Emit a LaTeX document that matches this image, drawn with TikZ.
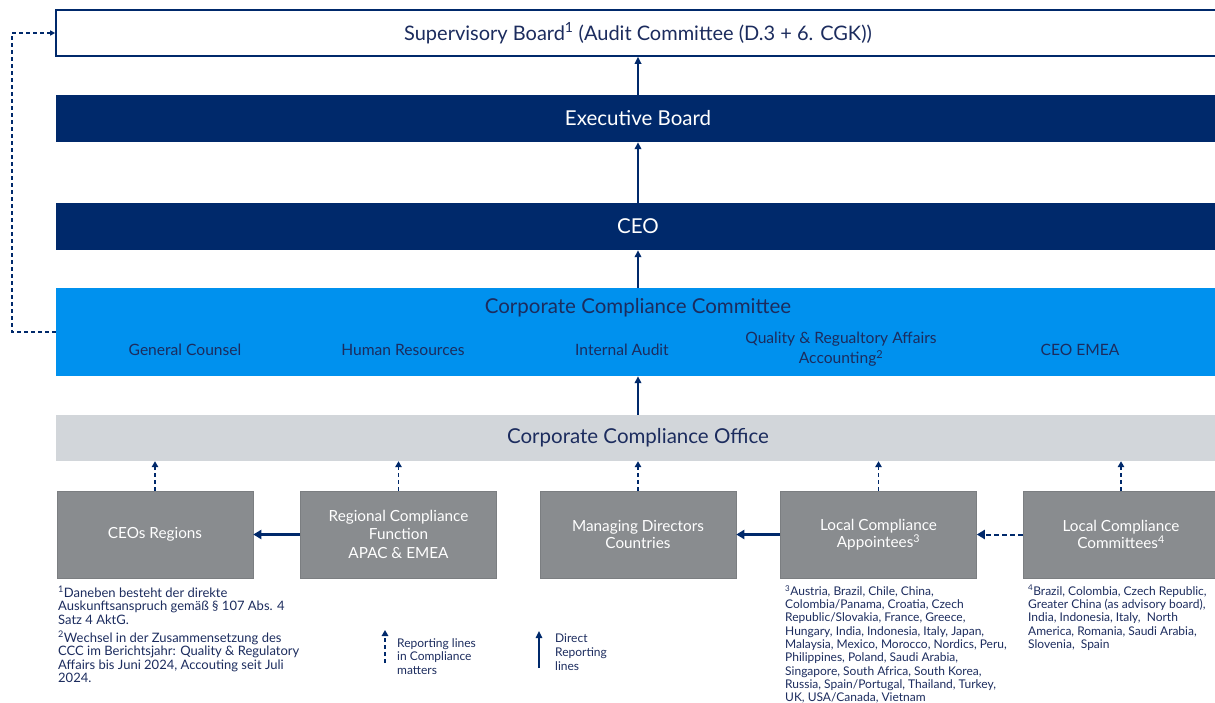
\documentclass[tikz,border=0pt]{standalone}
\usepackage{fontspec}
\setmainfont{Lato}
\usetikzlibrary{arrows.meta}
\definecolor{navy}{HTML}{00296B}
\definecolor{txtnavy}{HTML}{1C2C5E}
\definecolor{cccblue}{HTML}{0091EE}
\definecolor{ccogrey}{HTML}{D2D6DA}
\definecolor{boxgrey}{HTML}{898C8F}
\tikzset{
  band/.style={rectangle, inner sep=0pt, minimum width=1164pt},
  bandfont/.style={font=\fontsize{20.5}{22}\selectfont},
  gbox/.style={rectangle, fill=boxgrey, draw=boxgrey!90!black, line width=0.6pt, minimum width=196pt, minimum height=87pt, inner sep=0pt, text=white, align=center, font=\fontsize{15.3}{17.5}\selectfont},
  solidarr/.style={draw=navy, line width=1.8pt, -{Triangle[length=7pt,width=6.5pt]}},
  harr/.style={draw=navy, line width=2.8pt, -{Triangle[length=8pt,width=9pt]}},
  dasharr/.style={draw=navy, line width=1.8pt, dash pattern=on 4pt off 3pt, -{Triangle[length=6pt,width=6.5pt]}},
  fn/.style={anchor=north west, inner sep=0pt, align=left, text=txtnavy, font=\fontsize{12}{13.3}\selectfont},
  item/.style={text=txtnavy, font=\fontsize{15.6}{20}\selectfont, align=center, inner sep=0pt}
}
\begin{document}
\begin{tikzpicture}[x=1pt,y=-1pt]
\useasboundingbox (0,0) rectangle (1215,703);
% bands
\node[band, bandfont, draw=navy, line width=1.6pt, fill=white, minimum height=46pt, text=txtnavy, font=\fontsize{20}{22}\selectfont] (sup) at (638,33) {Supervisory Board\textsuperscript{1} (Audit Committee (D.3 + 6. CGK))};
\node[band, bandfont, fill=navy, minimum height=47pt, text=white] (exec) at (638,118.5) {Executive Board};
\node[band, bandfont, fill=navy, minimum height=47pt, text=white] (ceo) at (638,226.5) {CEO};
\node[band, fill=cccblue, minimum height=88pt] (ccc) at (638,332) {};
\node[item, bandfont] (ccct) at (638,308) {Corporate Compliance Committee};
\node[item] (gc) at (185,350) {General Counsel};
\node[item] (hr) at (403,350) {Human Resources};
\node[item] (ia) at (622,350) {Internal Audit};
\node[item] (qra) at (841,349) {Quality \& Regualtory Affairs\\Accounting\textsuperscript{2}};
\node[item] (emea) at (1080,350) {CEO EMEA};
\node[band, bandfont, fill=ccogrey, minimum height=46pt, text=txtnavy] (cco) at (638,438) {Corporate Compliance Office};
% grey boxes
\node[gbox] (b1) at (155,534.5) {CEOs Regions};
\node[gbox] (b2) at (398.5,534.5) {Regional Compliance\\Function\\[2pt]APAC \& EMEA};
\node[gbox] (b3) at (638,534.5) {Managing Directors\\Countries};
\node[gbox] (b4) at (878.5,534.5) {Local Compliance\\Appointees\textsuperscript{3}};
\node[gbox] (b5) at (1121,534.5) {Local Compliance\\Committees\textsuperscript{4}};
% vertical solid arrows
\draw[solidarr] (exec.north) -- (sup.south);
\draw[solidarr] (ceo.north) -- (exec.south);
\draw[solidarr] (ccc.north) -- (ceo.south);
\draw[solidarr] (cco.north) -- (ccc.south);
% dashed arrows up to CCO
\foreach \b in {b1,b2,b3,b4,b5}
  \draw[dasharr] (\b.north) -- (\b.north |- cco.south);
% horizontal arrows
\draw[harr] (b2.west) -- (b1.east);
\draw[harr] (b4.west) -- (b3.east);
\draw[harr, line width=2pt, dash pattern=on 5pt off 3pt] (b5.west) -- (b4.east);
% feedback line
\coordinate (fbl) at (12,332);
\draw[dasharr, line width=1.5pt, -{Triangle[length=5pt,width=5pt]}] (ccc.west) -- (fbl) |- (sup.west);
% footnotes
\node[fn, font=\fontsize{13}{13.5}\selectfont] (fn1) at (58,586) {\textsuperscript{1}Daneben besteht der direkte\\Auskunftsanspruch gemäß § 107 Abs. 4\\Satz 4 AktG.};
\node[fn, font=\fontsize{13}{13.6}\selectfont] (fn2) at (58,631) {\textsuperscript{2}Wechsel in der Zusammensetzung des\\CCC im Berichtsjahr: Quality \& Regulatory\\Affairs bis Juni 2024, Accouting seit Juli\\2024.};
\node[fn] (fn3) at (785,585) {\textsuperscript{3}Austria, Brazil, Chile, China,\\Colombia/Panama, Croatia, Czech\\Republic/Slovakia, France, Greece,\\Hungary, India, Indonesia, Italy, Japan,\\Malaysia, Mexico, Morocco, Nordics, Peru,\\Philippines, Poland, Saudi Arabia,\\Singapore, South Africa, South Korea,\\Russia, Spain/Portugal, Thailand, Turkey,\\UK, USA/Canada, Vietnam};
\node[fn] (fn4) at (1028,585) {\textsuperscript{4}Brazil, Colombia, Czech Republic,\\Greater China (as advisory board),\\India, Indonesia, Italy,\ \ North\\America, Romania, Saudi Arabia,\\Slovenia,\ \ Spain};
% legend
\coordinate (l1a) at (385,663);
\coordinate (l1b) at (385,630);
\draw[dasharr, line width=1.5pt] (l1a) -- (l1b);
\node[fn, font=\fontsize{12}{13.5}\selectfont] (lt1) at (397,638) {Reporting lines\\in Compliance\\matters};
\coordinate (l2a) at (539,668);
\coordinate (l2b) at (539,631);
\draw[solidarr, line width=1.5pt] (l2a) -- (l2b);
\node[fn, font=\fontsize{12}{13.8}\selectfont] (lt2) at (555,634) {Direct\\Reporting\\lines};
\end{tikzpicture}
\end{document}
